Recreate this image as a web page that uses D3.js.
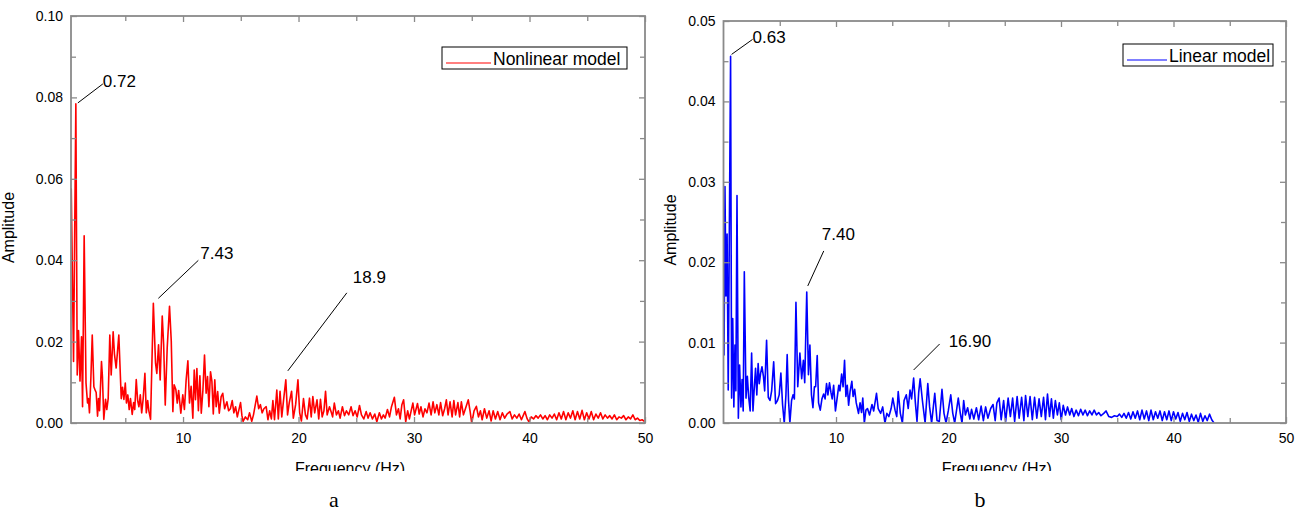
<!DOCTYPE html>
<html>
<head>
<meta charset="utf-8">
<script src="https://cdn.jsdelivr.net/npm/d3@7/dist/d3.min.js"></script>
<style>
  html, body { margin: 0; padding: 0; background: #fff; }
  svg { display: block; }
  text { font-family: "Liberation Sans", Arial, sans-serif; fill: #000; }
  text.caption { font-family: "Liberation Serif", "Times New Roman", serif; }
</style>
</head>
<body>
<svg id="chart" width="1309" height="518"></svg>
<script>
// ---- Spectrum of the nonlinear model (Hz, amplitude) ----
const nonlinearFreq = [
  0.32,0.52,0.72,0.84,0.95,1.08,1.21,1.30,1.44,1.60,1.73,1.81,1.90,2.02,2.14,2.28,2.40,2.48,2.60,2.68,
  2.77,2.94,3.02,3.14,3.29,3.40,3.52,3.66,3.78,3.95,4.06,4.21,4.44,4.65,4.76,4.88,5.00,5.10,5.22,5.34,
  5.45,5.60,5.72,5.82,5.95,6.07,6.18,6.30,6.42,6.55,6.70,6.82,6.94,7.04,7.19,7.43,7.62,7.73,7.88,8.02,
  8.20,8.32,8.46,8.63,8.83,8.98,9.12,9.23,9.38,9.50,9.62,9.81,9.98,10.12,10.27,10.42,10.56,10.70,10.85,10.97,
  11.08,11.20,11.33,11.46,11.58,11.72,11.86,12.00,12.12,12.24,12.38,12.50,12.62,12.75,12.87,13.00,13.14,13.30,13.44,13.60,
  13.80,13.95,14.10,14.26,14.40,14.55,14.70,14.98,15.10,15.20,15.40,15.60,15.76,15.95,16.10,16.39,16.55,16.70,16.85,17.00,
  17.20,17.35,17.50,17.65,17.78,17.92,18.12,18.25,18.40,18.55,18.70,18.90,19.05,19.20,19.40,19.55,19.75,19.95,20.10,20.25,
  20.43,20.60,20.75,20.95,21.10,21.24,21.40,21.60,21.75,21.90,22.05,22.20,22.34,22.48,22.68,22.85,22.95,23.10,23.28,23.45,
  23.60,23.80,23.98,24.15,24.35,24.55,24.72,24.90,25.08,25.28,25.45,25.65,25.86,26.02,26.20,26.40,26.60,26.78,27.00,27.18,
  27.35,27.50,27.70,27.88,28.05,28.30,28.48,28.65,28.80,28.95,29.10,29.28,29.45,29.60,29.90,30.05,30.30,30.45,30.60,30.78,
  30.95,31.12,31.30,31.48,31.65,31.80,31.98,32.15,32.30,32.48,32.65,32.80,32.95,33.12,33.30,33.45,33.60,33.80,33.95,34.10,
  34.28,34.45,34.70,34.85,35.00,35.20,35.40,35.58,35.75,35.90,36.10,36.30,36.50,36.68,36.85,37.05,37.25,37.45,37.65,37.85,
  38.05,38.30,38.50,38.70,38.90,39.10,39.30,39.60,39.80,39.95,40.15,40.35,40.55,40.75,40.95,41.15,41.35,41.55,41.75,41.95,
  42.15,42.35,42.55,42.75,42.95,43.15,43.35,43.55,43.75,43.95,44.15,44.35,44.55,44.75,44.95,45.15,45.35,45.55,45.75,45.95,
  46.15,46.35,46.55,46.75,46.95,47.15,47.35,47.55,47.75,47.95,48.15,48.35,48.55,48.75,48.95,49.15,49.35,49.55,49.75,49.95
];
const nonlinearAmp = [
  0.0577,0.0151,0.0784,0.0118,0.0227,0.0103,0.0212,0.0040,0.0460,0.0098,0.0049,0.0060,0.0025,0.0110,0.0216,0.0089,0.0080,0.0075,0.0017,0.0060,
  0.0030,0.0151,0.0115,0.0009,0.0058,0.0033,0.0060,0.0216,0.0118,0.0224,0.0170,0.0135,0.0216,0.0060,0.0088,0.0058,0.0098,0.0049,0.0069,0.0033,
  0.0060,0.0021,0.0050,0.0033,0.0107,0.0055,0.0040,0.0069,0.0025,0.0060,0.0122,0.0025,0.0055,0.0030,0.0009,0.0294,0.0147,0.0122,0.0192,0.0106,
  0.0263,0.0194,0.0044,0.0185,0.0287,0.0202,0.0028,0.0094,0.0082,0.0049,0.0080,0.0024,0.0069,0.0033,0.0106,0.0153,0.0049,0.0090,0.0012,0.0130,
  0.0057,0.0134,0.0030,0.0116,0.0024,0.0080,0.0167,0.0073,0.0114,0.0040,0.0126,0.0102,0.0022,0.0106,0.0040,0.0077,0.0024,0.0065,0.0073,0.0035,
  0.0052,0.0030,0.0035,0.0055,0.0025,0.0040,0.0015,0.0050,0.0018,0.0004,0.0015,0.0008,0.0025,0.0004,0.0020,0.0066,0.0035,0.0045,0.0025,0.0035,
  0.0040,0.0008,0.0030,0.0010,0.0055,0.0008,0.0081,0.0010,0.0078,0.0015,0.0055,0.0106,0.0020,0.0050,0.0078,0.0012,0.0045,0.0106,0.0025,0.0005,
  0.0060,0.0020,0.0010,0.0061,0.0015,0.0065,0.0025,0.0057,0.0010,0.0058,0.0015,0.0030,0.0078,0.0020,0.0040,0.0025,0.0015,0.0049,0.0020,0.0030,
  0.0012,0.0040,0.0018,0.0030,0.0020,0.0040,0.0018,0.0030,0.0015,0.0043,0.0020,0.0010,0.0028,0.0012,0.0025,0.0010,0.0022,0.0003,0.0025,0.0010,
  0.0020,0.0012,0.0033,0.0015,0.0040,0.0063,0.0020,0.0035,0.0010,0.0045,0.0057,0.0003,0.0030,0.0010,0.0049,0.0020,0.0048,0.0022,0.0040,0.0015,
  0.0035,0.0025,0.0049,0.0020,0.0052,0.0025,0.0045,0.0020,0.0050,0.0018,0.0035,0.0057,0.0020,0.0052,0.0015,0.0055,0.0020,0.0050,0.0015,0.0052,
  0.0020,0.0035,0.0057,0.0030,0.0000,0.0030,0.0041,0.0015,0.0030,0.0008,0.0035,0.0012,0.0030,0.0005,0.0030,0.0010,0.0028,0.0008,0.0025,0.0012,
  0.0022,0.0028,0.0010,0.0020,0.0012,0.0022,0.0008,0.0028,0.0010,0.0003,0.0015,0.0010,0.0018,0.0012,0.0020,0.0010,0.0018,0.0008,0.0020,0.0012,
  0.0022,0.0008,0.0025,0.0010,0.0028,0.0008,0.0025,0.0012,0.0030,0.0008,0.0028,0.0010,0.0031,0.0008,0.0025,0.0010,0.0028,0.0008,0.0022,0.0012,
  0.0025,0.0010,0.0020,0.0012,0.0018,0.0010,0.0020,0.0008,0.0015,0.0012,0.0018,0.0008,0.0015,0.0010,0.0020,0.0008,0.0012,0.0006,0.0008,0.0004
];

// ---- Spectrum of the linear model (Hz, amplitude) ----
const linearFreq = [
  0.05,0.13,0.22,0.32,0.42,0.63,0.72,0.82,0.92,1.02,1.10,1.20,1.32,1.43,1.55,1.65,1.75,1.85,2.00,2.12,
  2.24,2.37,2.50,2.62,2.72,2.85,2.96,3.08,3.18,3.30,3.42,3.55,3.66,3.83,3.98,4.13,4.28,4.46,4.63,4.80,
  4.95,5.10,5.25,5.40,5.55,5.66,5.78,5.90,6.05,6.18,6.30,6.44,6.60,6.79,6.95,7.10,7.22,7.40,7.55,7.68,
  7.82,7.95,8.08,8.19,8.33,8.45,8.60,8.75,8.90,9.03,9.16,9.28,9.42,9.55,9.66,9.79,9.95,10.10,10.25,10.35,
  10.50,10.63,10.76,10.88,11.00,11.12,11.25,11.41,11.52,11.66,11.80,12.00,12.14,12.27,12.38,12.52,12.66,12.80,12.98,13.20,
  13.35,13.60,13.75,13.97,14.15,14.35,14.52,14.70,14.90,15.05,15.25,15.40,15.53,15.72,15.90,16.05,16.25,16.42,16.58,16.72,
  16.90,17.05,17.20,17.35,17.48,17.68,17.92,18.16,18.32,18.50,18.78,18.98,19.18,19.42,19.60,19.78,19.98,20.20,20.38,20.55,
  20.87,21.05,21.20,21.35,21.50,21.70,21.90,22.05,22.25,22.48,22.68,22.90,23.10,23.30,23.50,23.75,23.96,24.15,24.30,24.50,
  24.68,24.90,25.08,25.30,25.50,25.70,25.88,26.10,26.28,26.50,26.70,26.85,27.05,27.25,27.45,27.65,27.85,28.05,28.25,28.45,
  28.62,28.80,28.98,29.15,29.32,29.50,29.68,29.85,30.02,30.20,30.40,30.58,30.78,30.95,31.15,31.35,31.55,31.75,31.95,32.15,
  32.35,32.55,32.75,32.95,33.15,33.35,33.55,33.80,34.00,34.25,34.50,34.75,35.00,35.20,35.40,35.60,35.80,36.00,36.20,36.40,
  36.60,36.80,37.00,37.20,37.40,37.60,37.80,38.00,38.20,38.40,38.60,38.80,39.00,39.20,39.40,39.60,39.80,40.00,40.20,40.40,
  40.60,40.80,41.00,41.20,41.40,41.60,41.80,42.00,42.20,42.40,42.60,42.80,43.00,43.20,43.40,43.60
];
const linearAmp = [
  0.0084,0.0294,0.0158,0.0235,0.0041,0.0456,0.0031,0.0130,0.0020,0.0097,0.0040,0.0283,0.0006,0.0072,0.0020,0.0054,0.0015,0.0188,0.0031,0.0058,
  0.0032,0.0015,0.0087,0.0015,0.0040,0.0068,0.0035,0.0074,0.0049,0.0062,0.0070,0.0058,0.0040,0.0103,0.0032,0.0028,0.0040,0.0076,0.0024,0.0028,
  0.0035,0.0062,0.0023,0.0000,0.0035,0.0085,0.0028,0.0000,0.0028,0.0035,0.0030,0.0150,0.0045,0.0087,0.0055,0.0078,0.0050,0.0163,0.0060,0.0097,
  0.0035,0.0019,0.0045,0.0045,0.0084,0.0025,0.0016,0.0030,0.0036,0.0030,0.0049,0.0035,0.0050,0.0038,0.0030,0.0047,0.0015,0.0031,0.0047,0.0040,
  0.0061,0.0045,0.0078,0.0033,0.0047,0.0022,0.0039,0.0052,0.0033,0.0042,0.0025,0.0012,0.0025,0.0013,0.0031,0.0000,0.0016,0.0018,0.0010,0.0023,
  0.0015,0.0037,0.0018,0.0012,0.0020,0.0000,0.0012,0.0008,0.0018,0.0031,0.0016,0.0008,0.0039,0.0012,0.0000,0.0028,0.0035,0.0018,0.0041,0.0030,
  0.0056,0.0026,0.0002,0.0038,0.0055,0.0028,0.0000,0.0049,0.0020,0.0000,0.0037,0.0003,0.0002,0.0042,0.0012,0.0000,0.0015,0.0035,0.0012,0.0000,
  0.0031,0.0012,0.0000,0.0028,0.0010,0.0019,0.0005,0.0017,0.0005,0.0019,0.0004,0.0021,0.0003,0.0020,0.0006,0.0018,0.0023,0.0003,0.0025,0.0031,
  0.0004,0.0028,0.0002,0.0031,0.0008,0.0031,0.0002,0.0033,0.0006,0.0032,0.0003,0.0034,0.0008,0.0033,0.0004,0.0032,0.0006,0.0030,0.0008,0.0032,
  0.0004,0.0036,0.0008,0.0030,0.0006,0.0028,0.0010,0.0025,0.0004,0.0022,0.0010,0.0020,0.0010,0.0018,0.0008,0.0016,0.0009,0.0017,0.0010,0.0016,
  0.0009,0.0015,0.0010,0.0016,0.0010,0.0013,0.0009,0.0012,0.0015,0.0008,0.0007,0.0009,0.0008,0.0011,0.0007,0.0012,0.0006,0.0013,0.0005,0.0014,
  0.0006,0.0015,0.0004,0.0016,0.0005,0.0015,0.0003,0.0016,0.0004,0.0014,0.0006,0.0015,0.0003,0.0014,0.0004,0.0015,0.0003,0.0014,0.0005,0.0013,
  0.0002,0.0012,0.0004,0.0013,0.0002,0.0011,0.0003,0.0010,0.0001,0.0012,0.0002,0.0009,0.0003,0.0011,0.0004,0.0000
];

// Peak annotations: frequency, amplitude, label
const nonlinearPeaks = [
  { f: 0.72, a: 0.0784, label: "0.72" },
  { f: 7.43, a: 0.0294, label: "7.43" },
  { f: 18.90, a: 0.0106, label: "18.9" }
];
const linearPeaks = [
  { f: 0.63, a: 0.0456, label: "0.63" },
  { f: 7.40, a: 0.0163, label: "7.40" },
  { f: 16.90, a: 0.0056, label: "16.90" }
];

// Axis ticks
const xMajorTicks = [10, 20, 30, 40, 50];
const xMinorTicks = [5, 15, 25, 35, 45];
const nonlinearYMajor = [0, 0.02, 0.04, 0.06, 0.08, 0.10];
const nonlinearYMinor = [0.01, 0.03, 0.05, 0.07, 0.09];
const linearYMajor = [0, 0.01, 0.02, 0.03, 0.04, 0.05];
const linearYMinor = [0.005, 0.015, 0.025, 0.035, 0.045];

const svg = d3.select("#chart");
const axisColor = "#8a8a8a";

function drawPanel(p) {
  const x = d3.scaleLinear().domain(p.xDomain).range([p.left, p.right]);
  const y = d3.scaleLinear().domain(p.yDomain).range([p.bottom, p.top]);
  const g = svg.append("g");

  // clip for spectrum
  g.append("clipPath").attr("id", p.id + "-clip")
    .append("rect").attr("x", p.left).attr("y", p.top)
    .attr("width", p.right - p.left).attr("height", p.bottom - p.top);

  const line = d3.line().x(d => x(d[0])).y(d => y(d[1]));
  const pts = p.freq.map((f, i) => [f, p.amp[i]]);
  g.append("path").datum(pts)
    .attr("clip-path", `url(#${p.id}-clip)`)
    .attr("fill", "none").attr("stroke", p.color)
    .attr("stroke-width", 1.6).attr("stroke-linejoin", "round")
    .attr("d", line);

  // axes: all four sides, ticks inward
  const ax = g.append("g");
  const bottomAxis = d3.axisBottom(x).tickValues(xMajorTicks).tickSize(-6).tickPadding(10).tickFormat(d3.format("d"));
  const topAxis = d3.axisTop(x).tickValues(xMajorTicks).tickSize(-6).tickFormat("");
  const leftAxis = d3.axisLeft(y).tickValues(p.yMajor).tickSize(-6).tickPadding(8).tickFormat(d3.format(".2f"));
  const rightAxis = d3.axisRight(y).tickValues(p.yMajor).tickSize(-6).tickFormat("");
  const bottomMinor = d3.axisBottom(x).tickValues(xMinorTicks).tickSize(-5).tickFormat("");
  const topMinor = d3.axisTop(x).tickValues(xMinorTicks).tickSize(-5).tickFormat("");
  const leftMinor = d3.axisLeft(y).tickValues(p.yMinor).tickSize(-5).tickFormat("");
  const rightMinor = d3.axisRight(y).tickValues(p.yMinor).tickSize(-5).tickFormat("");

  const place = (axis, tx, ty) => ax.append("g").attr("transform", `translate(${tx},${ty})`).call(axis);
  [place(bottomAxis, 0, p.bottom), place(bottomMinor, 0, p.bottom),
   place(topAxis, 0, p.top), place(topMinor, 0, p.top),
   place(leftAxis, p.left, 0), place(leftMinor, p.left, 0),
   place(rightAxis, p.right, 0), place(rightMinor, p.right, 0)].forEach(a => {
    a.select(".domain").remove();
    a.selectAll(".tick line").attr("stroke", axisColor).attr("stroke-width", 1.3);
    a.selectAll(".tick text").attr("font-size", 14).attr("fill", "#111");
  });
  // frame
  ax.append("rect").attr("x", p.left).attr("y", p.top)
    .attr("width", p.right - p.left).attr("height", p.bottom - p.top)
    .attr("fill", "none").attr("stroke", axisColor).attr("stroke-width", 1.8);

  // axis titles
  g.append("clipPath").attr("id", p.id + "-tclip")
    .append("rect").attr("x", 0).attr("y", 0).attr("width", 1309).attr("height", 471);
  g.append("text").attr("clip-path", `url(#${p.id}-tclip)`)
    .attr("x", (p.left + p.right) / 2 - 8).attr("y", 474)
    .attr("text-anchor", "middle").attr("font-size", 16).text("Frequency (Hz)");
  g.append("text")
    .attr("transform", `translate(${p.left - p.yTitleGap},${(p.top + p.bottom) / 2 + 8}) rotate(-90)`)
    .attr("text-anchor", "middle").attr("font-size", 16).text("Amplitude");

  // peak annotations
  p.peaks.forEach((pk, i) => {
    const px = x(pk.f), py = y(pk.a);
    const o = p.annot[i];
    g.append("line")
      .attr("x1", px + o.s[0]).attr("y1", py + o.s[1])
      .attr("x2", px + o.e[0]).attr("y2", py + o.e[1])
      .attr("stroke", "#000").attr("stroke-width", 1);
    g.append("text").attr("x", px + o.t[0]).attr("y", py + o.t[1])
      .attr("font-size", 17).text(pk.label);
  });

  // legend
  const lg = g.append("g");
  lg.append("rect").attr("x", p.legend.x).attr("y", p.legend.y)
    .attr("width", p.legend.w).attr("height", p.legend.h)
    .attr("fill", "#fff").attr("stroke", "#000").attr("stroke-width", 1);
  lg.append("line").attr("x1", p.legend.x + 4).attr("x2", p.legend.x + p.legend.lw)
    .attr("y1", p.legend.y + 16).attr("y2", p.legend.y + 16)
    .attr("stroke", p.color).attr("stroke-width", 1.2);
  lg.append("text").attr("x", p.legend.x + p.legend.lw + 2).attr("y", p.legend.y + 17.5)
    .attr("font-size", 17.5).text(p.name);

  // caption
  svg.append("text").attr("class", "caption").attr("x", p.caption).attr("y", 507)
    .attr("text-anchor", "middle").attr("font-size", 22).text(p.letter);
}

drawPanel({
  id: "nl", name: "Nonlinear model", color: "#ff0000", letter: "a", caption: 334,
  freq: nonlinearFreq, amp: nonlinearAmp, peaks: nonlinearPeaks,
  xDomain: [0.3, 50], yDomain: [0, 0.10],
  left: 71, right: 645, top: 16, bottom: 423, yTitleGap: 57,
  yMajor: nonlinearYMajor, yMinor: nonlinearYMinor,
  annot: [
    { s: [2, -1], e: [27, -20], t: [27, -17] },
    { s: [5, -5], e: [45, -43], t: [47, -44] },
    { s: [2, -9], e: [61, -87], t: [67, -97] }
  ],
  legend: { x: 442, y: 47, w: 185, h: 22, lw: 49 }
});

drawPanel({
  id: "ln", name: "Linear model", color: "#0000ff", letter: "b", caption: 980,
  freq: linearFreq, amp: linearAmp, peaks: linearPeaks,
  xDomain: [0, 50], yDomain: [0, 0.05],
  left: 723.5, right: 1286, top: 21, bottom: 423, yTitleGap: 48,
  yMajor: linearYMajor, yMinor: linearYMinor,
  annot: [
    { s: [1, -2], e: [22, -17], t: [22, -13] },
    { s: [1, -6], e: [17, -41], t: [15, -52] },
    { s: [0, -8], e: [26, -34], t: [35, -31] }
  ],
  legend: { x: 1123, y: 44, w: 150, h: 22, lw: 44 }
});
</script>
</body>
</html>
